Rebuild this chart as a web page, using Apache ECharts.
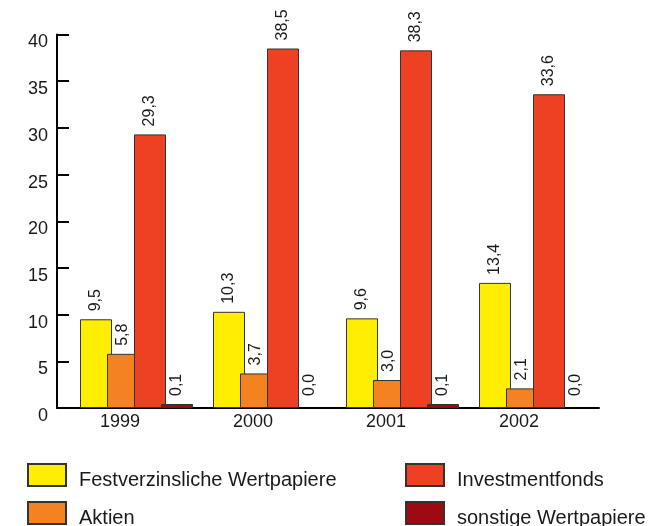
<!DOCTYPE html>
<html>
<head>
<meta charset="utf-8">
<script src="https://cdn.jsdelivr.net/npm/echarts@6/dist/echarts.min.js"></script>
<style>
  html, body { margin: 0; padding: 0; background: #fff; }
  #chart { width: 650px; height: 526px; }
</style>
</head>
<body>
<div id="chart"></div>
<script>
// Jahre und Werte (Mrd.)
var years = ['1999', '2000', '2001', '2002'];
var festverzinslich = [9.5, 10.3, 9.6, 13.4];
var aktien = [5.8, 3.7, 3.0, 2.1];
var investmentfonds = [29.3, 38.5, 38.3, 33.6];
var sonstige = [0.1, 0.0, 0.1, 0.0];
var seriesNames = ['Festverzinsliche Wertpapiere', 'Aktien', 'Investmentfonds', 'sonstige Wertpapiere'];
var seriesColors = ['#FFEE00', '#F58220', '#EE4023', '#9E0A12'];

var FONT = '"Liberation Sans", Arial, Helvetica, sans-serif';

function fmt(v) {
    return Number(v).toFixed(1).replace('.', ',');
}

function makeBar(name, values, color) {
    return {
        name: name,
        type: 'bar',
        xAxisIndex: 2,
        yAxisIndex: 2,
        barWidth: 32,
        barGap: '-15.6%',
        itemStyle: {
            color: color,
            borderColor: '#333',
            borderWidth: 1
        },
        label: {
            show: true,
            position: 'top',
            rotate: 90,
            align: 'left',
            verticalAlign: 'middle',
            distance: 8,
            fontFamily: FONT,
            fontSize: 16,
            color: '#1a1a1a',
            formatter: function (p) { return fmt(p.value); }
        },
        data: values
    };
}

var hiddenY = function (idx) {
    return {
        type: 'value', gridIndex: idx, min: 0, max: 40, interval: 5, show: false
    };
};

// one legend per entry, 2x2 layout
var legendItem = function (left, top, name) {
    return {
        left: left,
        top: top,
        padding: 0,
        itemWidth: 38,
        itemHeight: 22,
        icon: 'rect',
        selectedMode: false,
        formatter: '{t|{name}}',
        textStyle: {
            padding: [0, 0, 0, 8],
            rich: {
                t: { fontFamily: FONT, fontSize: 20, color: '#1a1a1a', padding: [10, 0, 0, 0] }
            }
        },
        data: [name]
    };
};

var option = {
    animation: false,
    backgroundColor: '#fff',
    grid: [
        // axes
        { left: 57, right: 51, top: 34.5, bottom: 118 },
        // year labels
        { left: 53.5, right: 64.5, top: 34.5, bottom: 118 },
        // bars
        { left: 70, right: 48, top: 34.5, bottom: 118 }
    ],
    legend: [
        legendItem(27, 463, seriesNames[0]),
        legendItem(27, 501, seriesNames[1]),
        legendItem(405, 463, seriesNames[2]),
        legendItem(405, 501, seriesNames[3])
    ],
    xAxis: [{
        type: 'category',
        gridIndex: 0,
        data: years,
        axisLine: { lineStyle: { color: '#000', width: 2 } },
        axisTick: { show: false },
        axisLabel: { show: false }
    }, {
        type: 'category',
        gridIndex: 1,
        data: years,
        axisLine: { show: false },
        axisTick: { show: false },
        axisLabel: { margin: 5, fontFamily: FONT, fontSize: 18, color: '#1a1a1a' }
    }, {
        type: 'category',
        gridIndex: 2,
        data: years,
        show: false
    }],
    yAxis: [{
        type: 'value',
        gridIndex: 0,
        min: 0,
        max: 40,
        interval: 5,
        axisLine: { show: true, lineStyle: { color: '#000', width: 2 } },
        axisTick: { show: true, inside: true, length: 12, lineStyle: { color: '#000', width: 2 } },
        splitLine: { show: false },
        axisLabel: {
            margin: 9, verticalAlign: 'top', lineHeight: 16,
            fontFamily: FONT, fontSize: 18, color: '#1a1a1a'
        }
    }, hiddenY(1), hiddenY(2)],
    series: [
        makeBar(seriesNames[0], festverzinslich, seriesColors[0]),
        makeBar(seriesNames[1], aktien, seriesColors[1]),
        makeBar(seriesNames[2], investmentfonds, seriesColors[2]),
        makeBar(seriesNames[3], sonstige, seriesColors[3])
    ]
};
// tiny values stay visible, zero values draw no bar (label only)
option.series[3].barMinHeight = 4;
option.series[3].data = sonstige.map(function (v) {
    return v === 0 ? { value: v, itemStyle: { color: 'transparent', borderWidth: 0 } } : v;
});

var chart = echarts.init(document.getElementById('chart'));
chart.setOption(option);
window.addEventListener('resize', function () {
    chart.resize();
});
</script>
</body>
</html>
